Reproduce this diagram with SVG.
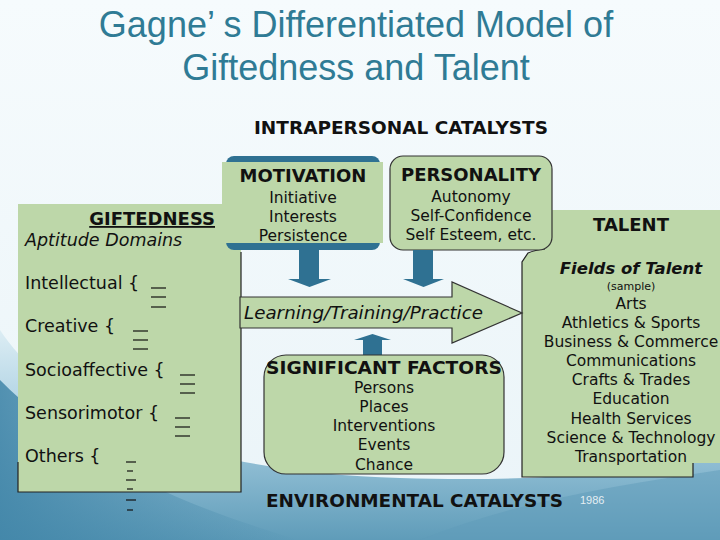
<svg xmlns="http://www.w3.org/2000/svg" width="720" height="540" viewBox="0 0 720 540">
<defs>
<linearGradient id="bg" x1="0" y1="0" x2="0" y2="1">
<stop offset="0" stop-color="#f6fbfd"/>
<stop offset="1" stop-color="#eaf4f8"/>
</linearGradient>
<linearGradient id="sw" x1="0" y1="0" x2="0" y2="1">
<stop offset="0" stop-color="#dcedf4"/>
<stop offset="0.45" stop-color="#a6cde0"/>
<stop offset="1" stop-color="#5f9cb9"/>
</linearGradient>
<linearGradient id="sw2" x1="0" y1="0" x2="1" y2="0">
<stop offset="0" stop-color="#3f84a7" stop-opacity="0.85"/>
<stop offset="1" stop-color="#3f84a7" stop-opacity="0"/>
</linearGradient>
</defs>
<style>
.box{fill:#bdd7a9}
.edge{fill:none;stroke:#222;stroke-width:1.2}
.t{font-family:"DejaVu Sans",Verdana,sans-serif;fill:#111}
.h{font-weight:bold;font-size:18px}
.c{text-anchor:middle}
.b{font-size:15.5px}
.l{font-size:17.5px}
.blk{fill:#2f7192}
.dash{stroke:#111;stroke-width:1.2}
.title{font-family:"Liberation Sans",Arial,sans-serif;font-size:36px;fill:#2f7b95;text-anchor:middle}
</style>

<g id="background">
<rect x="0" y="0" width="720" height="540" fill="url(#bg)"/>
<path d="M0,330 C60,420 200,472 400,478 C550,483 650,470 720,455 L720,540 L0,540 Z" fill="url(#sw)"/>
<path d="M0,380 C70,450 160,500 300,540 L0,540 Z" fill="url(#sw2)"/>
<path d="M420,540 C520,500 620,485 720,470 L720,540 Z" fill="#5f9cb9" opacity="0.5"/>
</g>

<g id="title">
<text class="title" x="356" y="37">Gagne’ s Differentiated Model of</text>
<text class="title" x="356" y="80">Giftedness and Talent</text>
</g>

<g id="intrapersonal-label">
<text class="t h" x="254" y="134" font-size="17" textLength="294" lengthAdjust="spacingAndGlyphs">INTRAPERSONAL CATALYSTS</text>
</g>

<g id="giftedness">
<rect class="box" x="18" y="204" width="223" height="288"/>
<path class="edge" d="M241,252 V492 H18 V462"/>
<text class="t h" x="215" y="225" text-anchor="end" text-decoration="underline">GIFTEDNESS</text>
<text class="t l" x="25" y="246" font-style="italic">Aptitude Domains</text>
<text class="t l" x="25" y="289">Intellectual {</text>
<text class="t l" x="25" y="332">Creative  {</text>
<text class="t l" x="25" y="376">Socioaffective  {</text>
<text class="t l" x="25" y="419">Sensorimotor  {</text>
<text class="t l" x="25" y="462">Others  {</text>
<g class="dash">
<line x1="151" y1="288" x2="166" y2="288"/><line x1="151" y1="297" x2="166" y2="297"/><line x1="151" y1="307" x2="166" y2="307"/>
<line x1="133" y1="331" x2="148" y2="331"/><line x1="133" y1="340" x2="148" y2="340"/><line x1="133" y1="349" x2="148" y2="349"/>
<line x1="180" y1="375" x2="195" y2="375"/><line x1="180" y1="384" x2="195" y2="384"/><line x1="180" y1="393" x2="195" y2="393"/>
<line x1="175" y1="418" x2="190" y2="418"/><line x1="175" y1="427" x2="190" y2="427"/><line x1="175" y1="436" x2="190" y2="436"/>
<line x1="126" y1="462" x2="136" y2="462"/><line x1="127" y1="471" x2="133" y2="471"/><line x1="126" y1="480" x2="136" y2="480"/><line x1="127" y1="489" x2="133" y2="489"/><line x1="126" y1="500" x2="136" y2="500"/><line x1="127" y1="510" x2="133" y2="510"/>
</g>
</g>

<g id="talent">
<path class="box" d="M540,210 H720 V463 H693 V477 H522 V262 L528,253 Q535,250 545,249 Z"/>
<path class="edge" d="M693,463 V477 H522 V262 L528,253 Q535,250 545,249"/>
<text class="t h c" x="631" y="231">TALENT</text>
<text class="t c" x="631" y="274" font-size="16.5" font-weight="bold" font-style="italic">Fields of Talent</text>
<text class="t c" x="631" y="290" font-size="11">(sample)</text>
<text class="t b c" x="631" y="309">Arts</text>
<text class="t b c" x="631" y="328">Athletics &amp; Sports</text>
<text class="t b c" x="631" y="347">Business &amp; Commerce</text>
<text class="t b c" x="631" y="366">Communications</text>
<text class="t b c" x="631" y="385">Crafts &amp; Trades</text>
<text class="t b c" x="631" y="404">Education</text>
<text class="t b c" x="631" y="424">Health Services</text>
<text class="t b c" x="631" y="443">Science &amp; Technology</text>
<text class="t b c" x="631" y="462">Transportation</text>
</g>

<g id="motivation">
<rect class="blk" x="226" y="156" width="154" height="94" rx="8"/>
<rect class="box" x="222" y="162" width="161" height="81"/>
<text class="t h c" x="303" y="182">MOTIVATION</text>
<text class="t b c" x="303" y="203">Initiative</text>
<text class="t b c" x="303" y="222">Interests</text>
<text class="t b c" x="303" y="241">Persistence</text>
</g>

<g id="personality">
<rect class="box" x="390" y="156" width="162" height="94" rx="13" stroke="#333" stroke-width="1.2"/>
<text class="t h c" x="471" y="181">PERSONALITY</text>
<text class="t b c" x="471" y="202">Autonomy</text>
<text class="t b c" x="471" y="221">Self-Confidence</text>
<text class="t b c" x="471" y="240">Self Esteem, etc.</text>
</g>

<g id="connectors">
<polygon class="box" points="240,297 452,297 452,282 522,313 452,343 452,328 240,328" stroke="#333" stroke-width="1.2"/>
<text class="t" x="244" y="319" font-size="17.5" font-style="italic" textLength="239" lengthAdjust="spacingAndGlyphs">Learning/Training/Practice</text>
<polygon class="blk" points="299,250 319,250 319,279 331,279 309.5,287 288,279 299,279"/>
<polygon class="blk" points="413,250 433,250 433,279 444,279 423.5,287 403,279 413,279"/>
<polygon class="blk" points="363,356 363,340 354,340 372.5,334 391,340 382,340 382,356"/>
</g>

<g id="significant-factors">
<rect class="box" x="264" y="355" width="240" height="119" rx="22" stroke="#333" stroke-width="1.2"/>
<text class="t h" x="266" y="373.5" textLength="236" lengthAdjust="spacingAndGlyphs">SIGNIFICANT FACTORS</text>
<text class="t b c" x="384" y="393">Persons</text>
<text class="t b c" x="384" y="412">Places</text>
<text class="t b c" x="384" y="431">Interventions</text>
<text class="t b c" x="384" y="450">Events</text>
<text class="t b c" x="384" y="470">Chance</text>
</g>

<g id="environmental-label">
<text class="t h" x="266" y="507" font-size="17" textLength="297" lengthAdjust="spacingAndGlyphs">ENVIRONMENTAL CATALYSTS</text>
<text x="580" y="504" font-family="Liberation Sans, Arial, sans-serif" font-size="11" fill="#e4eef3">1986</text>
</g>
</svg>
